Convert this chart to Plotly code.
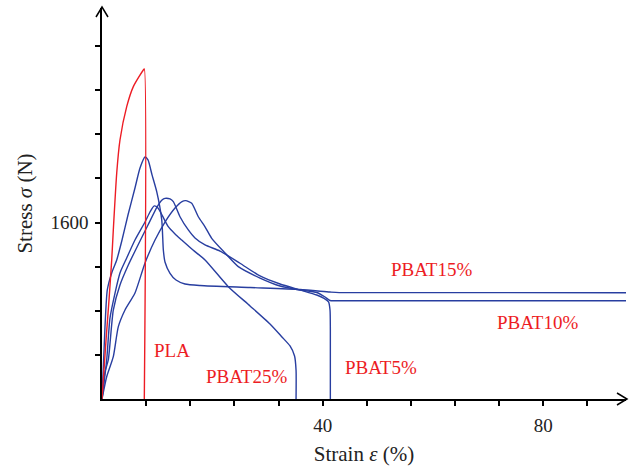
import plotly.graph_objects as go

# ---- data (strain %, stress N) ----
pla_x = [0, 0.73, 1.27, 1.76, 2.05, 2.67, 3.26, 4.48, 5.68, 7.49, 7.67, 7.67]
pla_y = [0, 535, 898, 1261, 1533, 2050, 2349, 2651, 2833, 2984, 2993, 0]

pbat15_x = [0, 0.54, 0.96, 1.76, 2.67, 3.63, 4.71, 5.98, 6.89, 7.80, 8.34, 9.07, 9.92,
            10.83, 11.12, 11.42, 12.33, 13.42, 15.05, 17.77, 26.84, 35.90, 41.34, 43.0, 95]
pbat15_y = [0, 653, 989, 1143, 1261, 1442, 1669, 1914, 2095, 2195, 2168, 2032, 1880,
            1624, 1351, 1243, 1140, 1079, 1043, 1029, 1011, 993, 970, 965, 964]

pbat10_x = [0, 0.85, 2.05, 2.96, 4.17, 5.98, 7.80, 9.61, 11.42, 13.24, 14.51, 15.18, 16.26,
            17.46, 18.68, 19.89, 22.30, 24.71, 28.65, 32.28, 35.90, 38.93, 40.44, 41.34,
            42.5, 95]
pbat10_y = [0, 202, 384, 656, 807, 961, 1234, 1442, 1605, 1732, 1791, 1799, 1775,
            1653, 1562, 1457, 1324, 1200, 1097, 1025, 989, 966, 925, 893,
            891, 891]

pbat5_x = [0, 0.54, 1.14, 2.05, 3.26, 4.77, 6.53, 8.34, 9.97, 10.88, 11.42, 12.33, 12.93,
           14.14, 15.65, 16.86, 18.68, 21.40, 25.02, 28.65, 32.28, 35.90, 38.93, 40.26,
           41.07, 41.34, 41.40, 41.40]
pbat5_y = [0, 245, 354, 807, 1034, 1215, 1397, 1578, 1741, 1805, 1820, 1814, 1790,
           1653, 1533, 1460, 1397, 1342, 1231, 1116, 1043, 989, 943, 912,
           880, 807, 626, 0]

pbat25_x = [0, 0.85, 1.45, 2.36, 3.26, 4.48, 5.98, 7.80, 8.70, 9.48, 10.15, 11.06, 12.02,
            13.24, 14.45, 16.50, 18.68, 22.90, 26.84, 30.46, 32.58, 34.09, 34.91, 35.18, 35.18]
pbat25_y = [0, 354, 735, 961, 1143, 1279, 1442, 1605, 1696, 1751, 1732, 1651, 1563,
            1497, 1442, 1351, 1261, 1019, 844, 680, 565, 481, 390, 263, 0]

label_text = ["PLA", "PBAT25%", "PBAT5%", "PBAT15%", "PBAT10%"]
label_x = [12.69, 26.11, 50.50, 59.65, 78.97]
label_y = [444, 200, 290, 1170, 698]

x_tickvals = [8, 16, 24, 32, 40, 48, 56, 64, 72, 80, 88]
x_ticktext = ["", "", "", "", "40", "", "", "", "", "80", ""]
y_tickvals = [400, 800, 1200, 1600, 2000, 2400, 2800, 3200]
y_ticktext = ["", "", "", "1600", "", "", "", ""]

RED = "rgb(237,28,36)"
BLUE = "rgb(40,62,160)"
FONT = "Liberation Serif"

fig = go.Figure()
for xs, ys in [(pbat15_x, pbat15_y), (pbat10_x, pbat10_y), (pbat5_x, pbat5_y), (pbat25_x, pbat25_y)]:
    fig.add_trace(go.Scatter(x=xs, y=ys, mode="lines",
                             line=dict(color=BLUE, width=1.4, shape="spline", smoothing=0.6),
                             showlegend=False, hoverinfo="skip"))
fig.add_trace(go.Scatter(x=pla_x, y=pla_y, mode="lines",
                         line=dict(color=RED, width=1.4, shape="spline", smoothing=0.6),
                         showlegend=False, hoverinfo="skip"))

for t, x, y in zip(label_text, label_x, label_y):
    fig.add_annotation(x=x, y=y, text=t, showarrow=False,
                       font=dict(family=FONT, size=19, color=RED))

fig.add_annotation(x=-1.8, y=0, text="0", showarrow=False, yanchor="top", yshift=-13,
                   font=dict(family=FONT, size=19, color="#222"))

axis_common = dict(showline=True, linecolor="black", linewidth=1.5, ticks="outside",
                   ticklen=5, tickcolor="black", tickwidth=1.5, showgrid=False, zeroline=False,
                   ticklabelstandoff=3, automargin=False,
                   tickfont=dict(family=FONT, size=19, color="#222"))

fig.update_layout(
    width=634, height=467,
    margin=dict(l=102, r=8, t=8, b=68),
    paper_bgcolor="white", plot_bgcolor="white",
    xaxis=dict(range=[0, 95], tickvals=x_tickvals, ticktext=x_ticktext,
               title=dict(text="Strain <i>ε</i> (%)", font=dict(family=FONT, size=21, color="#222"),
                          standoff=12),
               **axis_common),
    yaxis=dict(range=[0, 3546], tickvals=y_tickvals, ticktext=y_ticktext,
               title=dict(text="Stress <i>σ</i> (N)", font=dict(family=FONT, size=21, color="#222"),
                          standoff=12),
               **axis_common),
)

# axis arrow heads (open chevrons)
fig.add_shape(type="path", xref="paper", yref="paper", xsizemode="pixel", ysizemode="pixel",
              xanchor=1, yanchor=0, path="M -9,6 L 1,0 L -9,-6",
              line=dict(color="black", width=1.5))
fig.add_shape(type="path", xref="paper", yref="paper", xsizemode="pixel", ysizemode="pixel",
              xanchor=0, yanchor=1, path="M -6,-9 L 0,1 L 6,-9",
              line=dict(color="black", width=1.5))

fig.write_html("out.html")
